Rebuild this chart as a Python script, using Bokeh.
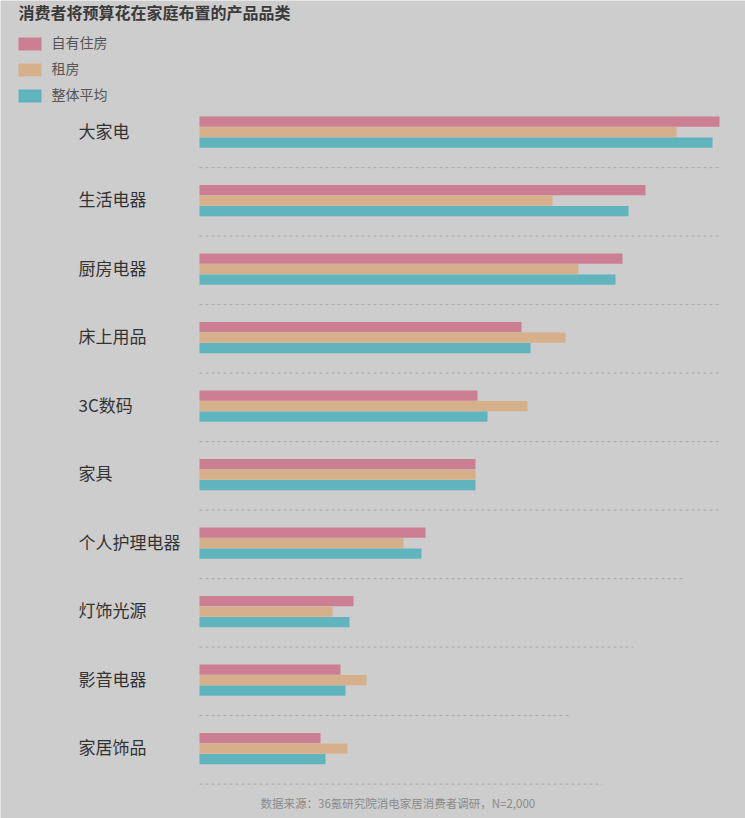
from bokeh.plotting import figure
from bokeh.models import Range1d
from bokeh.core.properties import value
from bokeh.embed import file_html
from bokeh.resources import INLINE

categories = ["大家电", "生活电器", "厨房电器", "床上用品", "3C数码", "家具",
              "个人护理电器", "灯饰光源", "影音电器", "家居饰品"]
own_home = [52.0, 44.6, 42.3, 32.2, 27.8, 27.6, 22.6, 15.4, 14.1, 12.1]
renting = [47.7, 35.3, 37.9, 36.6, 32.8, 27.6, 20.4, 13.3, 16.7, 14.8]
overall = [51.3, 42.9, 41.6, 33.1, 28.8, 27.6, 22.2, 15.0, 14.6, 12.6]
separator_len = [52.1, 52.1, 52.1, 52.1, 52.1, 51.9, 48.6, 43.4, 37.1, 40.3]
series_names = ["自有住房", "租房", "整体平均"]
colors = ["#cc7e92", "#d5b08a", "#5fb4bd"]
title_text = "消费者将预算花在家庭布置的产品品类"
source_text = "数据来源：36氪研究院消电家居消费者调研，N=2,000"

W, H = 745, 818
BG = "#cdcdcd"
FONT = value("Noto Sans CJK SC")

# data coordinate system: x in value units (10 px per unit), y in category index units
PX_PER_X = 10.0
X0_PX = 199.0
PX_PER_Y = 68.5
Y0_PX = 131.6

def dx(px):
    return (px - X0_PX) / PX_PER_X

def dy(py):
    return (py - Y0_PX) / PX_PER_Y

p = figure(width=W, height=H, output_backend="svg", toolbar_location=None,
           x_range=Range1d(dx(0), dx(W)), y_range=Range1d(dy(H), dy(0)),
           min_border=0, outline_line_color=None,
           background_fill_color=BG, border_fill_color=BG)
p.axis.visible = False
p.grid.visible = False

idx = list(range(len(categories)))
bh = 10.4 / PX_PER_Y
step = 10.5 / PX_PER_Y
for k, (vals, c) in enumerate(zip([own_home, renting, overall], colors)):
    p.hbar(y=[i + (k - 1) * step for i in idx], left=0, right=vals, height=bh,
           fill_color=c, line_color=None)

sep_off = 35.5 / PX_PER_Y
p.segment(x0=[0] * len(idx), x1=separator_len, y0=[i + sep_off for i in idx],
          y1=[i + sep_off for i in idx], line_color="#a8a8a8", line_width=1,
          line_dash="3 3")

lab_shift = -2.0 / PX_PER_Y
p.text(x=[dx(78)] * len(idx), y=[i + lab_shift for i in idx], text=categories,
       text_font=FONT, text_font_size="17px", text_color="#333333",
       text_baseline="middle", text_align="left")

# title
p.text(x=[dx(18)], y=[dy(11)], text=[title_text], text_font=FONT,
       text_font_size="16px", text_font_style="bold", text_color="#3a3a3a",
       text_baseline="middle", text_align="left")

# legend
leg_y = [43.5, 69.5, 95.5]
p.rect(x=[dx(29.5)] * 3, y=[dy(v) for v in leg_y], width=23 / PX_PER_X,
       height=13 / PX_PER_Y, fill_color=colors, line_color=None)
p.text(x=[dx(51)] * 3, y=[dy(v - 2) for v in leg_y], text=series_names,
       text_font=FONT, text_font_size="14px", text_color="#555555",
       text_baseline="middle", text_align="left")

# source
p.text(x=[dx(260)], y=[dy(802)], text=[source_text], text_font=FONT,
       text_font_size="11.5px", text_color="#8a8a8a", text_baseline="middle",
       text_align="left")

open("out.html", "w").write(file_html(p, INLINE))
